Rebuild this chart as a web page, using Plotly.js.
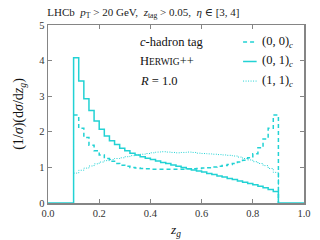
<!DOCTYPE html>
<html>
<head>
<meta charset="utf-8">
<script src="https://cdn.plot.ly/plotly-3.0.1.min.js"></script>
<style>html,body{margin:0;padding:0;background:#fff;}#chart{width:320px;height:240px;}</style>
</head>
<body>
<div id="chart"></div>
<script>
// Bin edges of the z_g histogram (40 bins of width 0.02 from 0.1 to 0.9)
const binLow = 0.1, binWidth = 0.02, nBins = 40;
const binEdges = Array.from({length: nBins + 1}, (_, i) => +(binLow + binWidth * i).toFixed(2));

// (0,0)_c  dashed
const vals00 = [2.47, 2.10, 1.84, 1.62, 1.47, 1.35, 1.25, 1.17, 1.11, 1.06,
                1.03, 1.00, 0.98, 0.97, 0.96, 0.95, 0.95, 0.95, 0.95, 0.95,
                0.95, 0.95, 0.96, 0.96, 0.97, 0.98, 0.99, 1.01, 1.03, 1.05,
                1.08, 1.11, 1.15, 1.20, 1.27, 1.38, 1.55, 1.80, 2.10, 2.47];
// (0,1)_c  solid
const vals01 = [4.08, 3.43, 2.93, 2.60, 2.30, 2.07, 1.88, 1.75, 1.64, 1.54,
                1.47, 1.40, 1.35, 1.30, 1.26, 1.22, 1.18, 1.14, 1.11, 1.07,
                1.03, 1.00, 0.96, 0.93, 0.90, 0.87, 0.83, 0.80, 0.76, 0.73,
                0.69, 0.66, 0.62, 0.58, 0.55, 0.51, 0.47, 0.43, 0.38, 0.32];
// (1,1)_c  dotted
const vals11 = [0.84, 0.92, 0.98, 1.04, 1.10, 1.15, 1.19, 1.22, 1.25, 1.27,
                1.30, 1.33, 1.35, 1.37, 1.39, 1.41, 1.43, 1.44, 1.43, 1.42,
                1.41, 1.42, 1.43, 1.42, 1.40, 1.39, 1.38, 1.37, 1.36, 1.35,
                1.34, 1.32, 1.29, 1.25, 1.21, 1.16, 1.11, 1.05, 0.97, 0.86];

const seriesNames = ['(0, 0)<sub><i>c</i></sub>', '(0, 1)<sub><i>c</i></sub>', '(1, 1)<sub><i>c</i></sub>'];
const color = '#22d2d4';
const serif = "'Liberation Serif', 'DejaVu Serif', serif";
const dotDash = '1px,1.5px';
const dashDash = '4px,3px';

function stepTrace(vals, dash, width, withBase) {
  // histogram outline: hv steps over bin edges, dropping to zero at the upper edge
  let x = [], y = [];
  if (withBase) { x.push(0, binEdges[0]); y.push(0, 0); }
  binEdges.forEach((e, i) => { x.push(e); y.push(i < vals.length ? vals[i] : vals[vals.length - 1]); });
  x.push(binEdges[binEdges.length - 1]); y.push(0);
  if (withBase) { x.push(1); y.push(0); }
  return {x: x, y: y, type: 'scatter', mode: 'lines', line: {shape: 'hv', color: color, dash: dash, width: width}, showlegend: false, hoverinfo: 'skip'};
}

const traces = [
  stepTrace(vals11, dotDash, 1.0, false),
  stepTrace(vals00, dashDash, 1.5, false),
  stepTrace(vals01, 'solid', 1.5, true)
];

const axisCommon = {
  showgrid: false, zeroline: false, showline: true, linecolor: '#858585', linewidth: 1.5,
  mirror: 'ticks', ticks: 'inside', ticklen: 4, tickcolor: '#858585', tickwidth: 1,
  tickfont: {family: serif, size: 10.5, color: '#333'}
};

const annFont = {family: serif, size: 12.5, color: '#111'};
const legY = [0.905, 0.795, 0.685];
const annotations = [
  {xref: 'paper', yref: 'paper', x: 0.352, y: legY[0], xanchor: 'left', yanchor: 'middle', showarrow: false, text: '<i>c</i>-hadron tag', font: annFont},
  {xref: 'paper', yref: 'paper', x: 0.352, y: legY[1], xanchor: 'left', yanchor: 'middle', showarrow: false, text: 'H<span style="font-size:9.5px">ERWIG</span>++', font: annFont},
  {xref: 'paper', yref: 'paper', x: 0.352, y: legY[2], xanchor: 'left', yanchor: 'middle', showarrow: false, text: '<i>R</i> = 1.0', font: annFont}
];
seriesNames.forEach((n, i) => annotations.push({xref: 'paper', yref: 'paper', x: 0.83, y: legY[i], xanchor: 'left', yanchor: 'middle', showarrow: false, text: n, font: annFont}));

const legDash = [dashDash, 'solid', dotDash];
const legW = [1.5, 1.5, 1.0];
const shapes = legY.map((yy, i) => ({type: 'line', xref: 'paper', yref: 'paper', x0: 0.762, x1: 0.815, y0: yy, y1: yy, line: {color: color, dash: legDash[i], width: legW[i]}}));

const layout = {
  width: 320, height: 240,
  margin: {l: 48, r: 16, t: 25, b: 37},
  paper_bgcolor: '#fff', plot_bgcolor: '#fff',
  title: {text: 'LHCb  <i>p</i><sub>T</sub> > 20 GeV,  <i>z</i><sub>tag</sub> > 0.05,  <i>η</i> ∈ [3, 4]', font: {family: serif, size: 11, color: '#222'}, x: 0.148, xanchor: 'left', y: 0.95, yanchor: 'middle'},
  xaxis: Object.assign({}, axisCommon, {range: [0, 1], dtick: 0.2, tickformat: '.1f', title: {text: '<i>z<sub>g</sub></i>', font: {family: serif, size: 13.5, color: '#111'}, standoff: 6}}),
  yaxis: Object.assign({}, axisCommon, {range: [0, 5], dtick: 1, title: {text: '(1/<i>σ</i>)(d<i>σ</i>/d<i>z<sub>g</sub></i>)', font: {family: serif, size: 14, color: '#111'}, standoff: 12}}),
  annotations: annotations,
  shapes: shapes,
  showlegend: false
};

Plotly.newPlot('chart', traces, layout, {staticPlot: true, displayModeBar: false});
</script>
</body>
</html>
